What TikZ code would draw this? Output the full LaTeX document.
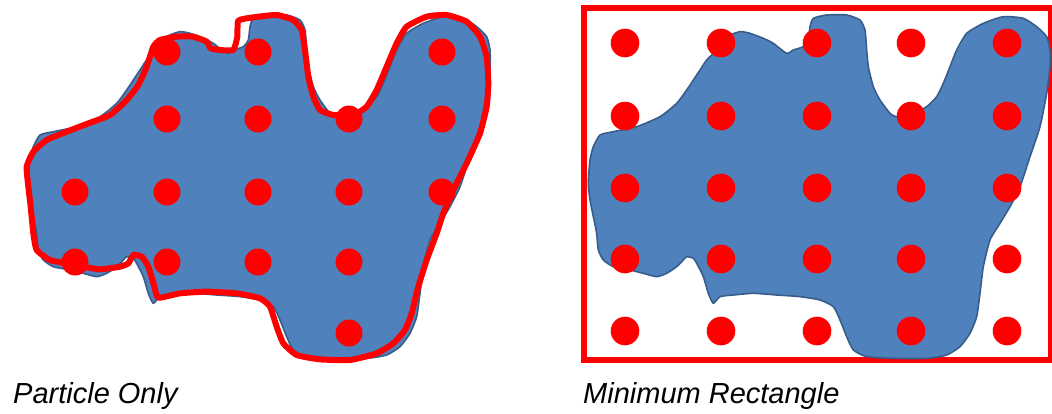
\documentclass[tikz,border=0pt]{standalone}
\usepackage{fontspec}
\setmainfont{Liberation Sans}
\definecolor{blobblue}{RGB}{79,129,189}
\definecolor{blobedge}{RGB}{56,93,138}
\definecolor{dotred}{RGB}{255,0,0}
\tikzset{
  blob/.style={fill=blobblue, draw=blobedge, line width=1.6pt, line join=round},
  trace/.style={draw=dotred, line width=6pt, line join=round},
  frame/.style={draw=dotred, line width=6.5pt},
  dotL/.style={fill=dotred},
  caption/.style={font=\fontsize{29}{34}\selectfont\itshape, anchor=base west, inner sep=0pt}
}
\def\blobpath{plot[smooth cycle, tension=0.35] coordinates {
(120,405) (160,395) (230,380) (300,350) (350,310) (380,270) (420,210) (440,180)
(470,150) (500,110) (540,95) (570,100) (610,115) (640,130) (680,160) (700,150)
(730,140) (745,120) (750,80) (760,55) (800,45) (860,45) (900,60) (915,90)
(920,150) (925,200) (940,260) (960,300) (990,340) (1010,350) (1060,340) (1100,320)
(1130,290) (1150,250) (1170,200) (1190,150) (1220,100) (1270,70) (1330,50) (1390,55)
(1430,80) (1460,110) (1470,150) (1470,200) (1460,280) (1440,380) (1410,470) (1380,560)
(1350,620) (1320,670) (1290,720) (1270,800) (1260,880) (1250,950) (1230,1000) (1200,1040)
(1160,1065) (1100,1075) (1000,1075) (920,1070) (880,1050) (860,1010) (840,960) (820,920)
(780,900) (720,890) (650,885) (580,880) (520,885) (480,890) (460,910) (445,880)
(430,830) (410,790) (400,775) (380,770) (370,780) (350,800) (320,820) (290,830)
(250,820) (210,810) (160,800) (130,780) (115,750) (110,700) (100,650) (90,600)
(85,550) (90,480) (100,440)}}
\begin{document}
\begin{tikzpicture}[x=1pt, y=-1pt]
\useasboundingbox (0,0) rectangle (1052,413);
% ---- left panel: particle only ----
\begin{scope}[scale=1/3]
  \path[blob] \blobpath;
  \path[trace] plot[smooth cycle, tension=0.3] coordinates {
  (80,500) (100,455) (140,420) (200,395) (260,372) (330,345) (380,300) (415,255)
  (440,200) (460,140) (480,120) (530,110) (580,110) (620,125) (632,145) (660,150)
  (700,150) (712,110) (715,62) (760,52) (830,45) (880,60) (905,90) (915,150)
  (925,230) (940,290) (960,330) (1000,345) (1060,345) (1100,320) (1130,270) (1160,200)
  (1190,130) (1220,80) (1280,50) (1340,45) (1400,65) (1440,110) (1460,170) (1465,250)
  (1460,320) (1440,400) (1400,490) (1360,570) (1330,640) (1310,700) (1280,780) (1255,860)
  (1235,940) (1215,990) (1180,1030) (1130,1060) (1050,1080) (960,1078) (890,1065) (850,1030)
  (830,980) (810,920) (780,895) (710,880) (620,875) (540,880) (475,893) (462,855)
  (445,800) (425,770) (400,765) (385,790) (360,800) (300,808) (250,800) (200,790)
  (150,780) (110,750) (100,700) (92,620) (85,560)};
\end{scope}
\foreach \x/\y in {167/52, 258/52, 442/52,
                   167/119, 258/119, 349/119, 442/119,
                   75/192, 167/192, 258/192, 349/192, 442/192,
                   75/262, 167/262, 258/262, 349/262,
                   349/333}
  \fill[dotL] (\x,\y) circle[radius=13.5];
% ---- right panel: minimum rectangle ----
\draw[frame] (584,8) rectangle (1051,360);
\begin{scope}[xshift=560pt, scale=1/3]
  \path[blob] \blobpath;
\end{scope}
\foreach \x in {625, 721, 817, 911, 1007}
  \foreach \y in {43, 116, 188, 259, 331}
    \fill[dotL] (\x,\y) circle[radius=14.3];
% ---- captions ----
\node[caption] (capL) at (13,403) {Particle Only};
\node[caption] (capR) at (583,403) {Minimum Rectangle};
\end{tikzpicture}
\end{document}
